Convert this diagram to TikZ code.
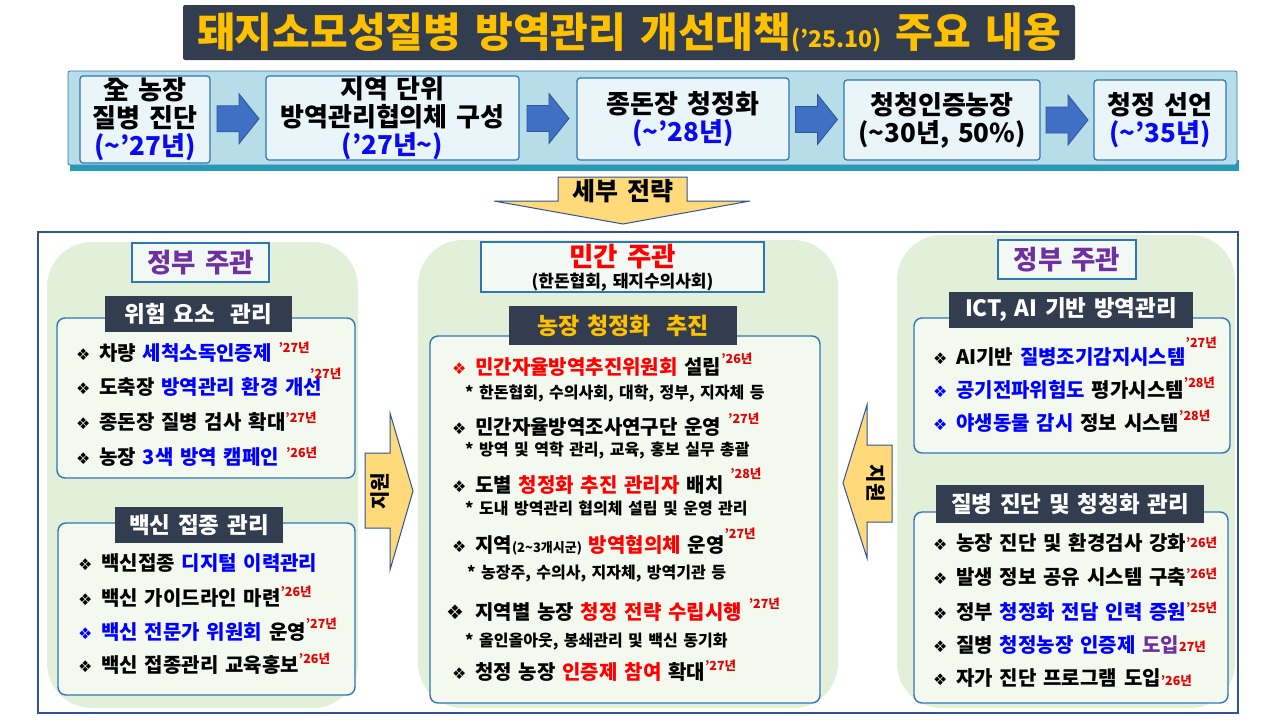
\documentclass[tikz,border=0pt]{standalone}
\usepackage{fontspec}
\setmainfont{Noto Sans CJK KR}[WordSpace=1.5]
\newfontfamily\dingfont{DejaVu Sans}
\usetikzlibrary{calc}

\definecolor{navy}{RGB}{50,62,79}
\definecolor{gold}{RGB}{255,192,0}
\definecolor{stripblue}{RGB}{183,222,232}
\definecolor{stripshadow}{RGB}{36,156,184}
\definecolor{stepfill}{RGB}{234,245,249}
\definecolor{boxblue}{RGB}{46,117,182}
\definecolor{arrowblue}{RGB}{64,112,196}
\definecolor{arrowline}{RGB}{47,85,151}
\definecolor{yearblue}{RGB}{10,10,240}
\definecolor{panelgreen}{RGB}{226,240,217}
\definecolor{listfill}{RGB}{244,249,240}
\definecolor{leadfill}{RGB}{242,249,245}
\definecolor{supportfill}{RGB}{255,217,122}
\definecolor{framenavy}{RGB}{47,85,151}
\definecolor{hlblue}{RGB}{0,0,255}
\definecolor{hlred}{RGB}{255,0,0}
\definecolor{yrred}{RGB}{230,0,0}
\definecolor{leadpurple}{RGB}{112,48,160}

\newcommand{\tild}{\textasciitilde}
\newcommand{\blt}[1][black]{\makebox[23pt][l]{\color{#1}\dingfont\fontsize{16}{16}\selectfont ❖}}
\newcommand{\yr}[2][7pt]{\raisebox{#1}{\color{yrred}\fontsize{12.5}{13}\selectfont ’#2년}}
\newcommand{\hlb}[1]{{\color{hlblue}#1}}
\newcommand{\hlr}[1]{{\color{hlred}#1}}
\newcommand{\steparrowat}[1]{\draw[steparrow] (#1) ++(-21,-13) -- ++(22,0) -- ++(0,-12) -- ++(20,25) -- ++(-20,25) -- ++(0,-12) -- ++(-22,0) -- cycle;}

\begin{document}
\begin{tikzpicture}[x=1pt,y=-1pt,
  titlebox/.style={fill=navy, rounded corners=2pt, text=gold, font=\bfseries\fontsize{41}{42}\selectfont, minimum width=892pt, minimum height=55pt, inner sep=0pt},
  strip/.style={draw=boxblue, fill=stripblue, rounded corners=2pt, line width=0.8pt},
  stepbox/.style={draw=boxblue, fill=stepfill, rounded corners=3pt, line width=1.2pt, align=center, inner sep=0pt, font=\bfseries\fontsize{26}{28}\selectfont},
  steparrow/.style={draw=arrowline, fill=arrowblue, line width=0.8pt},
  support/.style={draw=arrowline, fill=supportfill, line width=1pt},
  panel/.style={fill=panelgreen, rounded corners=45pt, inner sep=0pt},
  lead/.style={draw=boxblue, fill=leadfill, line width=1.2pt, inner sep=0pt},
  leadtext/.style={inner sep=0pt, font=\bfseries\fontsize{26.5}{28}\selectfont},
  listbox/.style={draw=boxblue, fill=listfill, rounded corners=8pt, line width=1.4pt, inner sep=0pt},
  head/.style={fill=navy, text=white, inner sep=0pt, font=\bfseries\fontsize{22.5}{24}\selectfont},
  item/.style={anchor=base west, inner sep=0pt, font=\bfseries\fontsize{20}{22}\selectfont},
  subitem/.style={anchor=base west, inner sep=0pt, font=\bfseries\fontsize{16}{18}\selectfont}]

\useasboundingbox (0,0) rectangle (1280,724);
\fill[white] (0,0) rectangle (1280,724);

% title
\node[titlebox] (title) at (629,32.5) {돼지소모성질병 방역관리 개선대책{\fontsize{23}{23}\selectfont(’25.10)} 주요 내용};

% roadmap strip
\fill[stripshadow] (70,160) rectangle (1239,171);
\node[strip, minimum width=1169pt, minimum height=94pt] (strip) at (652.5,118) {};
\node[stepbox, minimum width=130pt, minimum height=87pt] (s1) at (145,119.5) {全 농장\\질병 진단\\{\color{yearblue}(\tild’27년)}};
\node[stepbox, minimum width=253pt, minimum height=84pt] (s2) at (392.5,118) {지역 단위\\방역관리협의체 구성\\{\color{yearblue}(’27년\tild)}};
\node[stepbox, minimum width=212pt, minimum height=82pt] (s3) at (683,119) {종돈장 청정화\\{\color{yearblue}(\tild’28년)}};
\node[stepbox, minimum width=196pt, minimum height=80pt] (s4) at (942,120) {청청인증농장\\(\tild30년, 50\%)};
\node[stepbox, minimum width=132pt, minimum height=80pt] (s5) at (1160,120) {청정 선언\\{\color{yearblue}(\tild’35년)}};
\coordinate (m1) at ($(s1.east)!0.5!(s2.west)$);
\coordinate (m2) at ($(s2.east)!0.5!(s3.west)$);
\coordinate (m3) at ($(s3.east)!0.5!(s4.west)$);
\coordinate (m4) at ($(s4.east)!0.5!(s5.west)$);
\steparrowat{m1}
\steparrowat{m2}
\steparrowat{m3}
\steparrowat{m4}

% detail arrow
\draw[support] (558,177) -- (687,177) -- (687,201) -- (750,201) -- (623,224) -- (494,201) -- (558,201) -- cycle;
\node[font=\bfseries\fontsize{25}{26}\selectfont] (detail) at (623,191) {세부 전략};

% frame and panels
\node[draw=framenavy, line width=1.5pt, fill=white, minimum width=1200pt, minimum height=481pt] (frame) at (638,472.5) {};
\node[panel, minimum width=311pt, minimum height=466pt] (leftpanel) at (202.5,475) {};
\node[panel, minimum width=420pt, minimum height=468pt] (midpanel) at (628,474) {};
\node[panel, minimum width=338pt, minimum height=473pt] (rightpanel) at (1066,471.5) {};

% left: government
\node[lead, minimum width=137pt, minimum height=39pt] (leadl) at (200.5,262.5) {};
\node[leadtext, text=leadpurple] (leadltext) at (leadl) {정부 주관};
\node[listbox, minimum width=298pt, minimum height=160pt] (riskbox) at (206,398) {};
\node[head, minimum width=187pt, minimum height=36pt] (riskhead) at (198.5,314) {위험 요소 \ 관리};
\node[item] (r1) at (76,360) {\blt 차량 \hlb{세척소독인증제} \yr[8pt]{27}};
\node[item] (r2) at (76,394) {\blt 도축장 \hlb{방역관리 환경 개선}\hspace{-12pt}\yr[16pt]{27}};
\node[item] (r3) at (76,429) {\blt 종돈장 질병 검사 확대\yr{27}};
\node[item] (r4) at (76,464) {\blt 농장 \hlb{3색 방역 캠페인} \yr{26}};
\node[listbox, minimum width=297pt, minimum height=172pt] (vacbox) at (206.5,609) {};
\node[head, minimum width=168pt, minimum height=36pt] (vachead) at (199,525) {백신 접종 관리};
\node[item] (v1) at (78,570) {\blt 백신접종 \hlb{디지털 이력관리}};
\node[item] (v2) at (78,605) {\blt 백신 가이드라인 마련\yr[9pt]{26}};
\node[item] (v3) at (78,639) {\blt[hlblue]\hlb{백신 전문가 위원회} 운영\yr[11pt]{27}};
\node[item] (v4) at (78,672) {\blt 백신 접종관리 교육홍보\yr[9pt]{26}};

% centre: private sector
\node[lead, minimum width=283pt, minimum height=50pt] (leadm) at (622.5,267) {};
\node[leadtext, text=hlred] (leadmtext) at (622.5,257) {민간 주관};
\node[inner sep=0pt, font=\bfseries\fontsize{17}{18}\selectfont] (leadmsub) at (622.5,282) {(한돈협회, 돼지수의사회)};
\node[listbox, minimum width=390pt, minimum height=367pt] (farmbox) at (625,519.5) {};
\node[head, minimum width=228pt, minimum height=39pt, text=gold, font=\bfseries\fontsize{23}{25}\selectfont] (farmhead) at (623,325.5) {농장 청정화 \ 추진};
\node[item] (c1) at (452,374) {\blt[hlred]\hlr{민간자율방역추진위원회} 설립\yr[11pt]{26}};
\node[subitem] (c1s) at (465,398) {* 한돈협회, 수의사회, 대학, 정부, 지자체 등};
\node[item] (c2) at (452,434) {\blt 민간자율방역조사연구단 운영 \yr[11pt]{27}};
\node[subitem] (c2s) at (465,455) {* 방역 및 역학 관리, 교육, 홍보 실무 총괄};
\node[item] (c3) at (452,492) {\blt 도별 \hlr{청정화 추진 관리자} 배치 \yr[14pt]{28}};
\node[subitem] (c3s) at (465,514) {* 도내 방역관리 협의체 설립 및 운영 관리};
\node[item] (c4) at (452,552) {\blt 지역{\fontsize{13}{13}\selectfont(2\tild3개시군)} \hlr{방역협의체} 운영\yr[14pt]{27}};
\node[subitem] (c4s) at (467,578) {* 농장주, 수의사, 지자체, 방역기관 등};
\node[item] (c5) at (446,619) {\makebox[29pt][l]{\dingfont\fontsize{20}{20}\selectfont ❖}지역별 농장 \hlr{청정 전략 수립시행} \yr[11pt]{27}};
\node[subitem] (c5s) at (465,646) {* 올인올아웃, 봉쇄관리 및 백신 동기화};
\node[item] (c6) at (452,679) {\blt 청정 농장 \hlr{인증제 참여} 확대\yr[9pt]{27}};

% right: government
\node[lead, minimum width=138pt, minimum height=39pt] (leadr) at (1067,259.5) {};
\node[leadtext, text=leadpurple] (leadrtext) at (leadr) {정부 주관};
\node[listbox, minimum width=316pt, minimum height=135pt] (ictbox) at (1072,385.5) {};
\node[head, minimum width=244pt, minimum height=36pt] (icthead) at (1071,310) {ICT, AI 기반 방역관리};
\node[item] (i1) at (933,364) {\blt AI기반 \hlb{질병조기감지시스템}\yr[17pt]{27}};
\node[item] (i2) at (933,397) {\blt[hlblue]\hlb{공기전파위험도} 평가시스템\yr[10pt]{28}};
\node[item] (i3) at (933,430) {\blt[hlblue]\hlb{야생동물 감시} 정보 시스템\yr[10pt]{28}};
\node[listbox, minimum width=314pt, minimum height=191pt] (diagbox) at (1071,607.5) {};
\node[head, minimum width=268pt, minimum height=38pt] (diaghead) at (1070,504) {질병 진단 및 청청화 관리};
\node[item] (d1) at (933,550) {\blt 농장 진단 및 환경검사 강화\yr[3pt]{26}};
\node[item] (d2) at (933,584) {\blt 발생 정보 공유 시스템 구축\yr[6pt]{26}};
\node[item] (d3) at (933,619) {\blt 정부 \hlb{청정화 전담 인력 증원}\yr[7pt]{25}};
\node[item] (d4) at (933,652) {\blt 질병 \hlb{청정농장 인증제} {\color{leadpurple}도입}\raisebox{1pt}{\color{yrred}\fontsize{12.5}{13}\selectfont 27년}};
\node[item] (d5) at (933,685) {\blt 자가 진단 프로그램 도입\yr[0pt]{26}};

% support arrows
\draw[support] (365,453) -- (390,453) -- (390,413) -- (413,491) -- (390,570) -- (390,528) -- (365,528) -- cycle;
\node[rotate=90, font=\bfseries\fontsize{20}{20}\selectfont] (supl) at (380,491) {지원};
\draw[support] (892,445) -- (867,445) -- (867,405) -- (843,483) -- (867,558) -- (867,522) -- (892,522) -- cycle;
\node[rotate=-90, font=\bfseries\fontsize{20}{20}\selectfont] (supr) at (876,483) {지원};
\end{tikzpicture}
\end{document}
